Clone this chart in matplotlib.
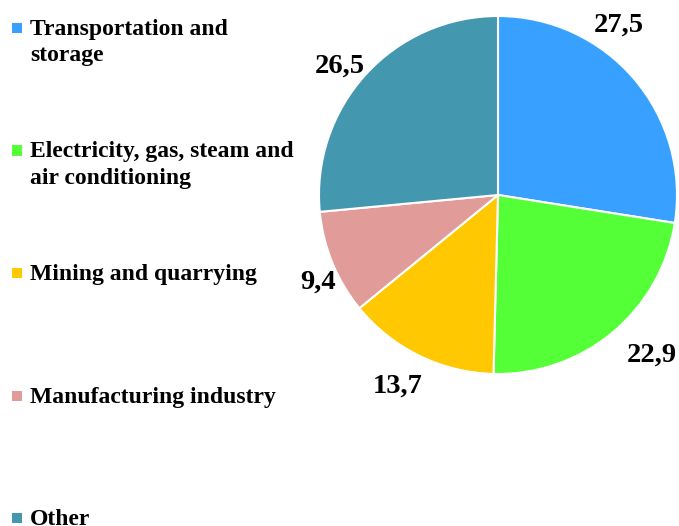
import numpy as np
import matplotlib.pyplot as plt

plt.rcParams["font.family"] = ["Liberation Serif", "DejaVu Serif"]

categories = ["Transportation and\nstorage",
              "Electricity, gas, steam and\nair conditioning",
              "Mining and quarrying",
              "Manufacturing industry",
              "Other"]
values = [27.5, 22.9, 13.7, 9.4, 26.5]
value_labels = ["27,5", "22,9", "13,7", "9,4", "26,5"]
colors = ["#38A1FF", "#55FF38", "#FFC800", "#E19C9A", "#4397AF"]

# label placement tweaks (angle shift in degrees, radial distance)
label_shift = [14.5, 4.7, -1.9, 2.7, 2.6]
label_dist = [1.18, 1.23, 1.19, 1.11, 1.15]

W, H = 679, 526
fig = plt.figure(figsize=(W / 100, H / 100), dpi=100)

# pie axes: centre (498, 195) px, radius 179 px
cx, cy, r = 498, 195, 179
ax = fig.add_axes([(cx - r) / W, (H - cy - r) / H, 2 * r / W, 2 * r / H])
wedges, _ = ax.pie(values, colors=colors, startangle=90, counterclock=False,
                   wedgeprops=dict(edgecolor="white", linewidth=1.5))
for w, lab, dth, d in zip(wedges, value_labels, label_shift, label_dist):
    th = np.deg2rad((w.theta1 + w.theta2) / 2 + dth)
    ax.text(d * np.cos(th), d * np.sin(th), lab, fontsize=20.5, fontweight="bold",
            ha="center", va="center_baseline", clip_on=False)
ax.set_xlim(-1, 1)
ax.set_ylim(-1, 1)
ax.set_aspect("equal")

# legend drawn by hand: evenly spaced entries down the left side
top0, step = 19, 122.5
for i, (lab, col) in enumerate(zip(categories, colors)):
    y = top0 + i * step
    fig.patches.append(plt.Rectangle((12 / W, 1 - (y + 14) / H), 10 / W, 10 / H,
                                     transform=fig.transFigure, facecolor=col,
                                     edgecolor="none"))
    fig.text(30 / W, 1 - y / H, lab, fontsize=17, fontweight="bold",
             ha="left", va="top", linespacing=1.34)

fig.savefig("out.png", dpi=100)
